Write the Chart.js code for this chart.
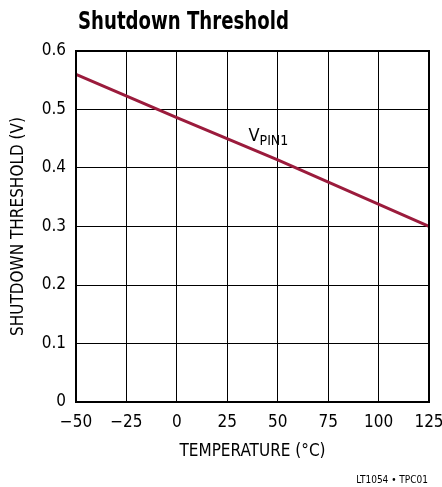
<!DOCTYPE html>
<html>
<head>
<meta charset="utf-8">
<script src="https://cdn.jsdelivr.net/npm/chart.js@4/dist/chart.umd.min.js"></script>
<style>
  html, body { margin: 0; padding: 0; background: #fff; }
  #wrap { width: 442px; height: 487px; position: relative; }
</style>
</head>
<body>
<div id="wrap"><canvas id="chart"></canvas></div>
<script>
const FONT = '"Liberation Sans Narrow", "DejaVu Sans Condensed", sans-serif';

// data
const temps = [-50, 0, 50, 125];
const vpin1 = [0.56, 0.486, 0.414, 0.30];
const xTicks = [-50, -25, 0, 25, 50, 75, 100, 125];
const yTicks = [0, 0.1, 0.2, 0.3, 0.4, 0.5, 0.6];

const titleText = 'Shutdown Threshold';
const xTitle = 'TEMPERATURE (°C)';
const yTitle = 'SHUTDOWN THRESHOLD (V)';
const footText = 'LT1054 • TPC01';

const decorations = {
    id: 'decorations',
    afterDraw(chart) {
        const ctx = chart.ctx;
        const a = chart.chartArea;
        const x = chart.scales.x, y = chart.scales.y;
        ctx.save();
        // frame
        ctx.strokeStyle = '#000';
        ctx.lineWidth = 2;
        ctx.strokeRect(a.left, a.top, a.right - a.left, a.bottom - a.top);

        ctx.fillStyle = '#000';
        // title, squeezed to look like a condensed face
        ctx.save();
        ctx.font = 'bold 24px ' + FONT;
        ctx.textAlign = 'left';
        ctx.textBaseline = 'alphabetic';
        ctx.translate(78, 29);
        ctx.scale(0.84, 1);
        ctx.fillText(titleText, 0, 0);
        ctx.restore();

        // x axis title
        ctx.font = '17px ' + FONT;
        ctx.textAlign = 'center';
        ctx.fillText(xTitle, (a.left + a.right) / 2, 456);

        // y axis title
        ctx.save();
        ctx.translate(23, (a.top + a.bottom) / 2);
        ctx.rotate(-Math.PI / 2);
        ctx.fillText(yTitle, 0, 0);
        ctx.restore();

        // footnote
        ctx.font = '10px ' + FONT;
        ctx.textAlign = 'right';
        ctx.fillText(footText, 428, 483);

        // curve label
        const lx = x.getPixelForValue(35.5);
        const ly = y.getPixelForValue(0.446);
        ctx.textAlign = 'left';
        ctx.font = '18px ' + FONT;
        ctx.fillText('V', lx, ly);
        const vw = ctx.measureText('V').width;
        ctx.font = '14px ' + FONT;
        ctx.fillText('PIN1', lx + vw, ly + 4);
        ctx.restore();
    }
};

new Chart(document.getElementById('chart'), {
    type: 'scatter',
    data: {
        datasets: [{
            data: temps.map((t, i) => ({ x: t, y: vpin1[i] })),
            showLine: true,
            borderColor: '#9b1b3c',
            borderWidth: 3,
            pointRadius: 0,
            tension: 0
        }]
    },
    options: {
        responsive: true,
        maintainAspectRatio: false,
        animation: false,
        layout: { padding: { top: 51, right: 13, left: 0, bottom: 0 } },
        plugins: {
            legend: { display: false },
            tooltip: { enabled: false }
        },
        scales: {
            x: {
                type: 'linear',
                min: -50,
                max: 125,
                afterBuildTicks: s => { s.ticks = xTicks.map(v => ({ value: v })); },
                afterFit: s => {
                    s.height = 85;
                    s.paddingLeft = 0;
                    s.paddingRight = 0;
                },
                ticks: {
                    color: '#000',
                    font: { family: FONT, size: 17 },
                    padding: 10,
                    maxRotation: 0,
                    callback: v => String(v).replace('-', '\u2212')
                },
                grid: { color: '#000', lineWidth: 1, drawTicks: false },
                border: { display: false }
            },
            y: {
                min: 0,
                max: 0.6,
                afterBuildTicks: s => { s.ticks = yTicks.map(v => ({ value: v })); },
                afterFit: s => {
                    s.width = 76;
                    s.paddingTop = 0;
                    s.paddingBottom = 0;
                },
                ticks: {
                    color: '#000',
                    font: { family: FONT, size: 17 },
                    padding: 10,
                    callback: v => String(Math.round(v * 10) / 10)
                },
                grid: { color: '#000', lineWidth: 1, drawTicks: false },
                border: { display: false }
            }
        }
    },
    plugins: [decorations]
});
</script>
</body>
</html>
